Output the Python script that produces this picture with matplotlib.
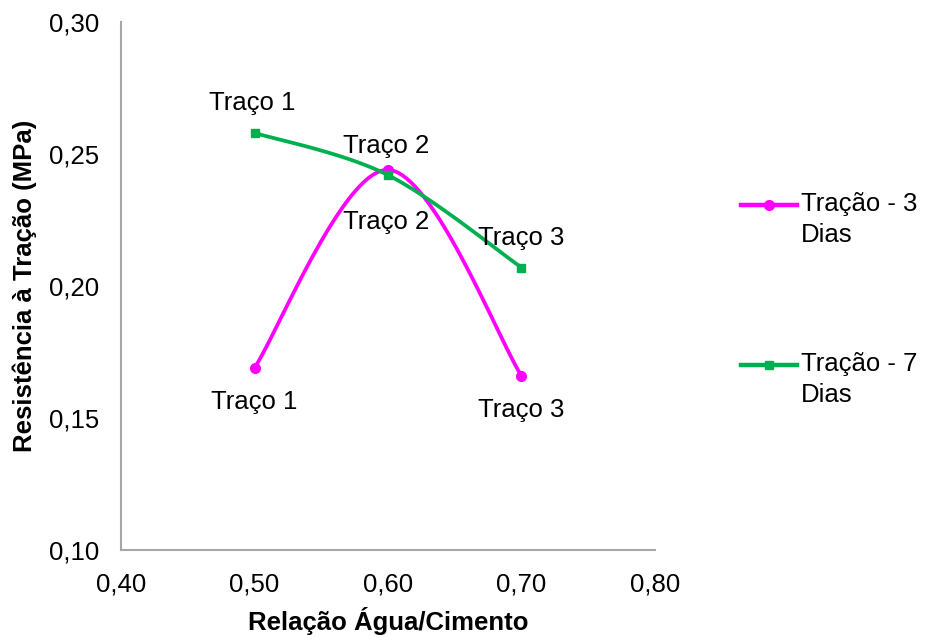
import numpy as np
import matplotlib.pyplot as plt
from matplotlib.lines import Line2D
from matplotlib.legend_handler import HandlerLine2D

plt.rcParams['font.family'] = ['Liberation Sans', 'DejaVu Sans']

# water/cement ratio and tensile strength
relacao = [0.50, 0.60, 0.70]
tracao_3 = [0.169, 0.244, 0.166]
tracao_7 = [0.258, 0.242, 0.207]
rotulos = ['Traço 1', 'Traço 2', 'Traço 3']

x_ticks = [0.40, 0.50, 0.60, 0.70, 0.80]
y_ticks = [0.10, 0.15, 0.20, 0.25, 0.30]

cor_3 = '#FF00FF'
cor_7 = '#00B050'
fs = 18.5


def suaviza(xs, ys, n=60):
    # smoothed line through the points (cubic bezier, catmull-rom style tangents)
    p = np.column_stack([xs, ys]).astype(float)
    k = len(p)
    out = []
    for i in range(k - 1):
        p0 = p[max(i - 1, 0)]
        p1 = p[i]
        p2 = p[i + 1]
        p3 = p[min(i + 2, k - 1)]
        c1 = p1 + (p2 - p0) / 6.0
        c2 = p2 - (p3 - p1) / 6.0
        t = np.linspace(0, 1, n)[:, None]
        seg = ((1 - t) ** 3) * p1 + 3 * ((1 - t) ** 2) * t * c1 \
            + 3 * (1 - t) * t ** 2 * c2 + t ** 3 * p2
        out.append(seg if i == 0 else seg[1:])
    out = np.vstack(out)
    return out[:, 0], out[:, 1]


class HandlerPrimeiraLinha(HandlerLine2D):
    # puts the legend line next to the first line of a two-line label
    def create_artists(self, legend, orig_handle, xdescent, ydescent,
                       width, height, fontsize, trans):
        return super().create_artists(legend, orig_handle, xdescent,
                                      ydescent - 1.15 * fontsize, width,
                                      height, fontsize, trans)


fig = plt.figure(figsize=(9.26, 6.37), dpi=100)
ax = fig.add_axes([0.1307, 0.1366, 0.5766, 0.8289])

sx, sy = suaviza(relacao, tracao_3)
ax.plot(sx, sy, color=cor_3, lw=2.7, solid_capstyle='round', zorder=3)
ax.plot(relacao, tracao_3, 'o', color=cor_3, ms=7, zorder=4)

sx, sy = suaviza(relacao, tracao_7)
ax.plot(sx, sy, color=cor_7, lw=2.7, solid_capstyle='round', zorder=3)
ax.plot(relacao, tracao_7, 's', color=cor_7, ms=6, zorder=4)

# data labels
desl_3 = [(0, -24.5), (-1.5, -37.5), (0, -25)]
desl_7 = [(-1.5, 21.6), (-1.5, 21), (0, 21)]
for x, y, r, d in zip(relacao, tracao_3, rotulos, desl_3):
    ax.annotate(r, (x, y), xytext=d, textcoords='offset points',
                ha='center', va='center', fontsize=fs)
for x, y, r, d in zip(relacao, tracao_7, rotulos, desl_7):
    ax.annotate(r, (x, y), xytext=d, textcoords='offset points',
                ha='center', va='center', fontsize=fs)

ax.set_xlim(0.40, 0.80)
ax.set_ylim(0.10, 0.30)
ax.set_xticks(x_ticks)
ax.set_yticks(y_ticks)
ax.set_xticklabels([f'{v:.2f}'.replace('.', ',') for v in x_ticks])
ax.set_yticklabels([f'{v:.2f}'.replace('.', ',') for v in y_ticks])
ax.tick_params(length=0, labelsize=fs)
ax.tick_params(axis='x', pad=16)
ax.tick_params(axis='y', pad=16)

for s in ['top', 'right']:
    ax.spines[s].set_visible(False)
for s in ['left', 'bottom']:
    ax.spines[s].set_color('#A6A6A6')
    ax.spines[s].set_linewidth(1.5)

ax.set_xlabel('Relação Água/Cimento', fontsize=fs, fontweight='bold', labelpad=8)
ax.set_ylabel('Resistência à Tração (MPa)', fontsize=fs, fontweight='bold', labelpad=8.5)

# legend
h3 = Line2D([], [], color=cor_3, lw=3.2, marker='o', ms=7)
h7 = Line2D([], [], color=cor_7, lw=3.2, marker='s', ms=6)
leg = fig.legend([h3, h7], ['Tração - 3\nDias', 'Tração - 7\nDias'],
                 loc='upper left', bbox_to_anchor=(0.775, 0.735), frameon=False,
                 fontsize=fs, handlelength=2.2, handletextpad=0.15,
                 labelspacing=4.1,
                 handler_map={Line2D: HandlerPrimeiraLinha()})
for t in leg.get_texts():
    t.set_linespacing(1.35)

fig.savefig('out.png', dpi=100)
